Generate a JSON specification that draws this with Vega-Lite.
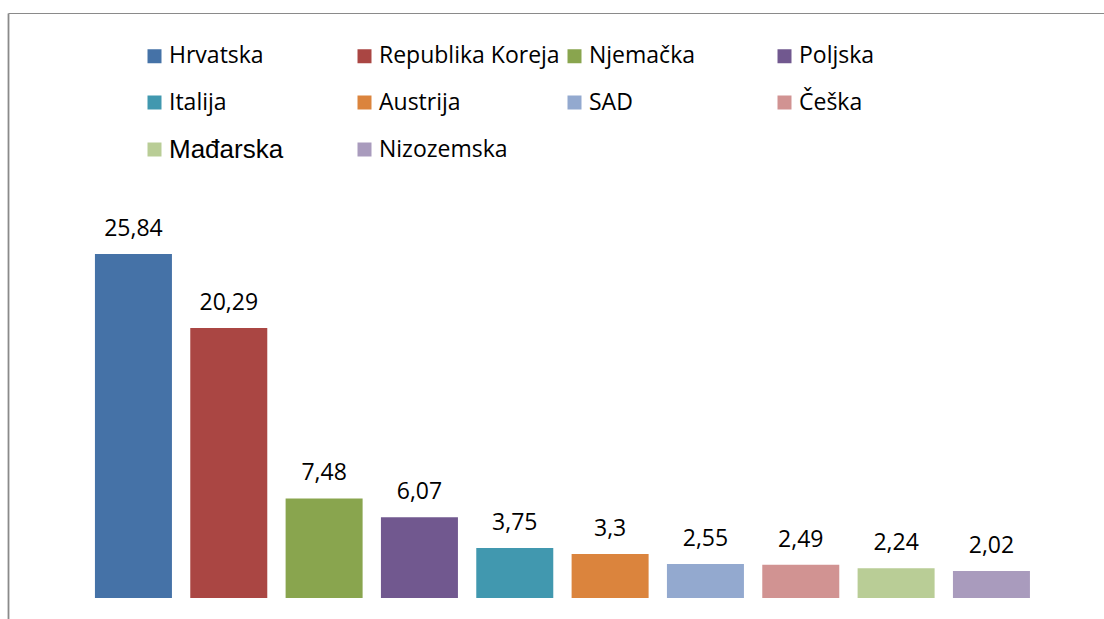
{
  "$schema": "https://vega.github.io/schema/vega-lite/v6.json",
  "width": 1096,
  "height": 606,
  "autosize": {"type": "none"},
  "padding": {"left": 8, "top": 13, "right": 0, "bottom": 0},
  "background": "white",
  "config": {
    "view": {"stroke": null},
    "font": "Open Sans",
    "locale": {"number": {"decimal": ",", "thousands": ".", "grouping": [3], "currency": ["", " €"]}}
  },
  "data": {
    "values": [
      {"zemlja": "Hrvatska", "vrijednost": 25.84},
      {"zemlja": "Republika Koreja", "vrijednost": 20.29},
      {"zemlja": "Njemačka", "vrijednost": 7.48},
      {"zemlja": "Poljska", "vrijednost": 6.07},
      {"zemlja": "Italija", "vrijednost": 3.75},
      {"zemlja": "Austrija", "vrijednost": 3.3},
      {"zemlja": "SAD", "vrijednost": 2.55},
      {"zemlja": "Češka", "vrijednost": 2.49},
      {"zemlja": "Mađarska", "vrijednost": 2.24},
      {"zemlja": "Nizozemska", "vrijednost": 2.02}
    ]
  },
  "encoding": {
    "x": {
      "field": "zemlja",
      "type": "nominal",
      "sort": null,
      "scale": {"paddingInner": 0.1923, "paddingOuter": 0.8444, "align": 0.54},
      "axis": {"orient": "top", "labels": false, "ticks": false, "title": null, "domain": true, "domainColor": "#8a8a8a", "domainWidth": 1.2, "grid": false}
    },
    "y": {
      "field": "vrijednost",
      "type": "quantitative",
      "scale": {"domain": [-1.578, 43.95], "nice": false, "zero": false},
      "axis": {"orient": "left", "labels": false, "ticks": false, "title": null, "domain": true, "domainColor": "#8a8a8a", "domainWidth": 1.8, "grid": false}
    }
  },
  "layer": [
    {
      "mark": {"type": "bar"},
      "encoding": {
        "y2": {"datum": 0},
        "color": {
          "field": "zemlja",
          "type": "nominal",
          "sort": null,
          "scale": {
            "domain": ["Hrvatska", "Republika Koreja", "Njemačka", "Poljska", "Italija", "Austrija", "SAD", "Češka", "Mađarska", "Nizozemska"],
            "range": ["#4572A7", "#AA4643", "#89A54E", "#71588F", "#4198AF", "#DB843D", "#93A9CF", "#D19392", "#B9CD96", "#A99BBD"]
          },
          "legend": {
            "orient": "none",
            "legendX": 135,
            "legendY": 31,
            "direction": "horizontal",
            "columns": 4,
            "gridAlign": "all",
            "title": null,
            "symbolType": "square",
            "symbolSize": 196,
            "symbolStrokeWidth": 0,
            "labelFontSize": {"expr": "datum.value == 'Mađarska' ? 26 : 23"},
            "labelFont": {"expr": "datum.value == 'Mađarska' ? 'Liberation Sans' : 'Open Sans'"},
            "labelColor": "black",
            "labelOffset": 3,
            "labelLimit": 300,
            "columnPadding": 3,
            "rowPadding": 20
          }
        }
      }
    },
    {
      "mark": {"type": "text", "baseline": "alphabetic", "dy": -18, "fontSize": 23, "font": "Open Sans", "color": "black"},
      "encoding": {
        "text": {"field": "vrijednost", "type": "quantitative", "format": ".4~r"}
      }
    }
  ]
}
